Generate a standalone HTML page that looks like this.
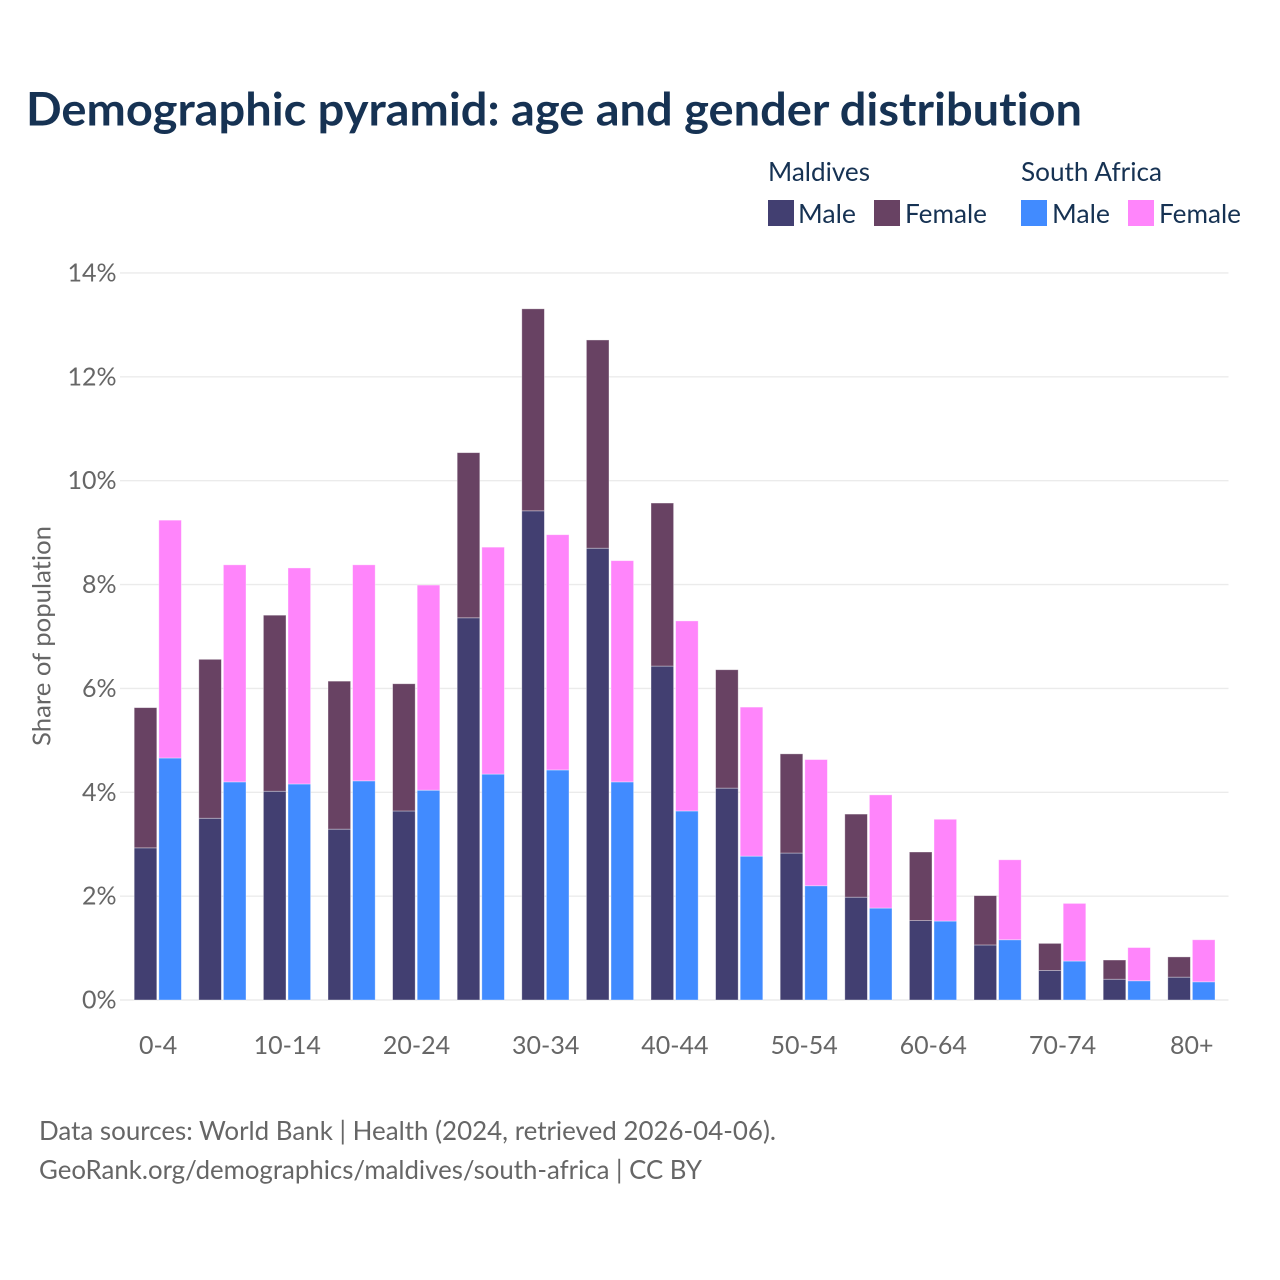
<!DOCTYPE html>
<html lang="en">
<head>
<meta charset="utf-8">
<title>Demographic pyramid: age and gender distribution</title>
<style>
html,body{margin:0;padding:0;background:#fff;width:1280px;height:1280px;overflow:hidden}
svg{display:block}
text{font-family:"Lato","Carlito","Liberation Sans",sans-serif;font-variant-ligatures:none;font-feature-settings:"liga" 0,"clig" 0}
</style>
</head>
<body>
<svg id="chart" xmlns="http://www.w3.org/2000/svg" width="1280" height="1280" viewBox="0 0 1280 1280">
  <rect x="0" y="0" width="1280" height="1280" fill="#ffffff"/>
  <text x="26" y="125.5" font-size="46" font-weight="700" fill="#163253" textLength="1056" lengthAdjust="spacingAndGlyphs">Demographic pyramid: age and gender distribution</text>

  <g font-size="26" fill="#163253">
    <text x="768" y="181" textLength="102" lengthAdjust="spacingAndGlyphs">Maldives</text>
    <text x="1021" y="181" textLength="141" lengthAdjust="spacingAndGlyphs">South Africa</text>
    <g>
      <rect x="768" y="200" width="26" height="26" fill="#423f71"/>
      <text x="798" y="223" textLength="58" lengthAdjust="spacingAndGlyphs">Male</text>
    </g>
    <g>
      <rect x="874" y="200" width="26" height="26" fill="#684263"/>
      <text x="905" y="223" textLength="82" lengthAdjust="spacingAndGlyphs">Female</text>
    </g>
    <g>
      <rect x="1021" y="200" width="26" height="26" fill="#418bff"/>
      <text x="1052" y="223" textLength="58" lengthAdjust="spacingAndGlyphs">Male</text>
    </g>
    <g>
      <rect x="1128" y="200" width="26" height="26" fill="#ff85fb"/>
      <text x="1159" y="223" textLength="82" lengthAdjust="spacingAndGlyphs">Female</text>
    </g>
  </g>

  <g id="grid"></g>
  <g id="y-ticks" font-size="25" fill="#666666" text-anchor="end"></g>
  <g id="bars"></g>
  <g id="x-ticks" font-size="25" fill="#666666" text-anchor="middle"></g>

  <text transform="translate(50.5,636) rotate(-90)" font-size="25" fill="#666666" text-anchor="middle" textLength="220" lengthAdjust="spacingAndGlyphs">Share of population</text>

  <text x="39" y="1140" font-size="26" fill="#666666" textLength="737" lengthAdjust="spacingAndGlyphs">Data sources: World Bank | Health (2024, retrieved 2026-04-06).</text>
  <text x="39" y="1179" font-size="26" fill="#666666" textLength="663" lengthAdjust="spacingAndGlyphs">GeoRank.org/demographics/maldives/south-africa | CC BY</text>
</svg>
<script>
const categories = ["0-4","5-9","10-14","15-19","20-24","25-29","30-34","35-39","40-44","45-49","50-54","55-59","60-64","65-69","70-74","75-79","80+"];
const maldivesMale = [2.93,3.50,4.02,3.29,3.64,7.36,9.42,8.70,6.43,4.08,2.83,1.98,1.53,1.06,0.57,0.40,0.44];
const maldivesFemale = [2.70,3.06,3.39,2.85,2.45,3.18,3.89,4.01,3.14,2.28,1.91,1.60,1.32,0.95,0.52,0.37,0.39];
const southAfricaMale = [4.66,4.20,4.16,4.22,4.04,4.35,4.43,4.20,3.64,2.77,2.20,1.77,1.52,1.16,0.75,0.37,0.35];
const southAfricaFemale = [4.58,4.18,4.16,4.16,3.95,4.37,4.53,4.26,3.66,2.87,2.43,2.18,1.96,1.54,1.11,0.64,0.81];
const yTickValues = [0,2,4,6,8,10,12,14];
const xTickLabels = ["0-4","10-14","20-24","30-34","40-44","50-54","60-64","70-74","80+"];

const NS = "http://www.w3.org/2000/svg";
const yZero = 1000, yPerUnit = 51.93;
const xStart = 125.8, band = 64.6, barW = 22.6, pad = 8.4, gap = 2;
const gridLeft = 120, gridRight = 1228.5;

function yScale(v) { return yZero - v * yPerUnit; }
function xBand(cat) { return xStart + categories.indexOf(cat) * band; }
function make(tag, attrs) {
  const el = document.createElementNS(NS, tag);
  for (const k in attrs) el.setAttribute(k, attrs[k]);
  return el;
}

const gridG = document.getElementById("grid");
const yG = document.getElementById("y-ticks");
yTickValues.forEach(function (v) {
  const line = make("line", {x1: gridLeft, x2: gridRight, y1: yScale(v), y2: yScale(v), stroke: "#ebebeb", "stroke-width": 1.4});
  
  
  gridG.appendChild(line);
  const t = make("text", {x: 116.5, y: yScale(v) + 8.5});
  
  
  t.textContent = v + "%";
  yG.appendChild(t);
});

const xG = document.getElementById("x-ticks");
xTickLabels.forEach(function (label) {
  const t = make("text", {x: xBand(label) + band / 2, y: 1054});
  
  
  t.textContent = label;
  xG.appendChild(t);
});

const barsG = document.getElementById("bars");
function drawStack(base, top, i, offset, baseFill, topFill) {
  const x = xStart + i * band + offset;
  const b0 = yScale(0), b1 = yScale(base), b2 = yScale(base + top);
  const lower = make("rect", {x: x, y: b1, width: barW, height: b0 - b1, fill: baseFill, stroke: "#ffffff", "stroke-opacity": 0.45, "stroke-width": 0.8});
  
  
  barsG.appendChild(lower);
  const upper = make("rect", {x: x, y: b2, width: barW, height: b1 - b2, fill: topFill, stroke: "#ffffff", "stroke-opacity": 0.45, "stroke-width": 0.8});
  
  
  barsG.appendChild(upper);
}
categories.forEach(function (c, i) {
  drawStack(maldivesMale[i], maldivesFemale[i], i, pad, "#423f71", "#684263");
  drawStack(southAfricaMale[i], southAfricaFemale[i], i, pad + barW + gap, "#418bff", "#ff85fb");
});
</script>
</body>
</html>
